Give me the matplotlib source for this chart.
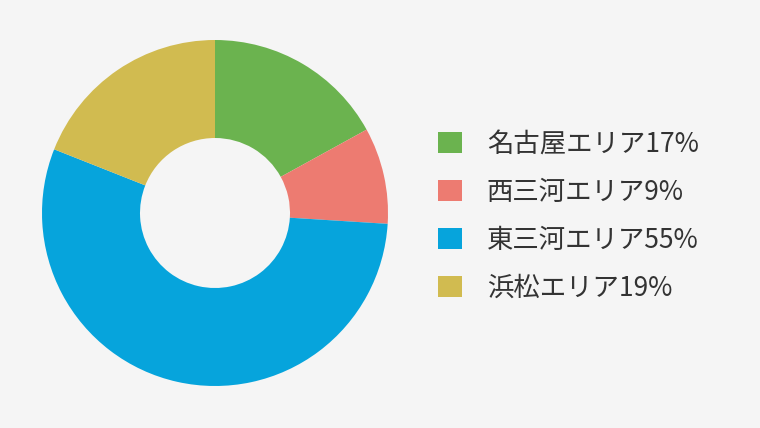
import matplotlib.pyplot as plt

plt.rcParams['font.family'] = ['Noto Sans CJK JP', 'DejaVu Sans']

# data
areas = ['名古屋エリア', '西三河エリア', '東三河エリア', '浜松エリア']
shares = [17, 9, 55, 19]
colors = ['#6bb34f', '#ed7b71', '#06a4dc', '#d1bb50']
labels = [f'{a}{s}%' for a, s in zip(areas, shares)]

W, H = 760, 428
bg = '#f5f5f5'
fig = plt.figure(figsize=(W / 100, H / 100), dpi=100, facecolor=bg)

# donut centred at (215, 213) px, outer r 173, inner r 75
cx, cy, r = 215, 213, 173
ax = fig.add_axes([(cx - r) / W, (H - cy - r) / H, 2 * r / W, 2 * r / H])
ax.set_facecolor(bg)
wedges, _ = ax.pie(shares, colors=colors, startangle=90, counterclock=False,
                   radius=1, wedgeprops=dict(width=1 - 75 / 173, linewidth=0))
ax.set_xlim(-1, 1)
ax.set_ylim(-1, 1)
ax.set_aspect('equal')
ax.axis('off')

leg = fig.legend(wedges, labels, loc='upper left',
                 bbox_to_anchor=(438 / W, 1 - 130.5 / H),
                 frameon=False, fontsize=19, handlelength=0.9, handleheight=0.85,
                 handletextpad=0.95, labelspacing=0.8, borderpad=0,
                 borderaxespad=0)
for t in leg.get_texts():
    t.set_color('#333333')

fig.savefig('out.png', dpi=100, facecolor=bg)
